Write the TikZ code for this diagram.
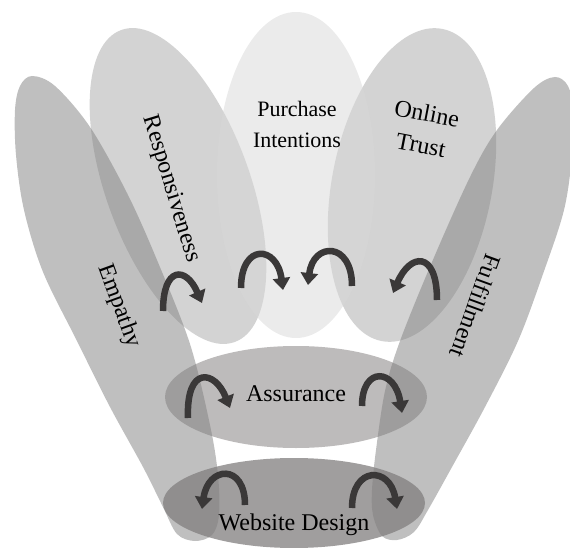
\documentclass[tikz,border=0pt]{standalone}
\usepackage{fontspec}
\setmainfont{Liberation Serif}
\usetikzlibrary{arrows.meta}
\definecolor{sidec}{RGB}{128,128,128}
\definecolor{petalc}{RGB}{167,167,167}
\definecolor{topc}{RGB}{215,215,215}
\definecolor{assc}{RGB}{124,119,119}
\definecolor{webc}{RGB}{66,61,61}
\definecolor{arrc}{RGB}{58,56,56}
\begin{document}
\begin{tikzpicture}[x=1pt,y=-1pt,
  sideshape/.style={fill=sidec,fill opacity=0.5},
  petal/.style={fill=petalc,fill opacity=0.5},
  toppetal/.style={fill=topc,fill opacity=0.5},
  assshape/.style={fill=assc,fill opacity=0.5},
  webshape/.style={fill=webc,fill opacity=0.5},
  lbl/.style={font=\fontsize{24}{32}\selectfont,text=black,inner sep=0pt,align=center},
  carrow/.style={draw=arrc,line width=6.5pt,-{Triangle[width=17pt,length=12pt]}}]
\useasboundingbox (0,0) rectangle (570,548);
% petals
\fill[petal,rotate around={20:(178,186)}] (178,186) ellipse [x radius=72,y radius=166];
\fill[petal,rotate around={-11:(412,185)}] (412,185) ellipse [x radius=80,y radius=159];
\fill[toppetal] (296,175) ellipse [x radius=79,y radius=163];
% assurance and website design
\fill[assshape] (296,397) ellipse [x radius=131,y radius=51];
\fill[webshape] (294,503) ellipse [x radius=131,y radius=45];
% empathy and fulfillment
\fill[sideshape] plot[smooth cycle,tension=0.55] coordinates {(32,76) (55,86) (90,127) (127,193) (157,260) (190,344) (210,425) (218,475) (219,515) (212,535) (195,541) (177,534) (163,507) (143,467) (110,407) (77,341) (43,272) (24,210) (16,155) (15,110) (20,86)};
\fill[sideshape] plot[smooth cycle,tension=0.55] coordinates {(555,77) (568,86) (573,110) (572,155) (564,210) (543,274) (518,341) (485,407) (452,467) (428,510) (414,532) (397,540) (382,536) (373,515) (372,490) (376,450) (385,391) (400,341) (432,262) (470,177) (497,130) (534,88)};
% labels
\node[lbl,rotate=-73] (tresp) at (171,189) {Responsiveness};
\node[lbl,font=\fontsize{22}{31}\selectfont] (tpur) at (297,124) {Purchase\\Intentions};
\node[lbl,rotate=-11] (ttrust) at (424,129) {Online\\Trust};
\node[lbl,rotate=-70] (temp) at (119,306) {Empathy};
\node[lbl,rotate=-110] (tful) at (476,306) {Fulfillment};
\node[lbl] (tass) at (296,394) {Assurance};
\node[lbl] (tweb) at (294,525) {Website Design};
% curved arrows
\draw[carrow] (163,311) .. controls (163,266) and (186,266) .. (202,303);
\draw[carrow] (241,288) .. controls (241,243) and (277,245) .. (283,290);
\draw[carrow] (352,286) .. controls (352,241) and (313,242) .. (308,285);
\draw[carrow] (437,300) .. controls (437,250) and (410,253) .. (393,293);
\draw[carrow] (188,418) .. controls (186,365) and (215,370) .. (230,408);
\draw[carrow] (362,406) .. controls (362,366) and (395,368) .. (402,413);
\draw[carrow] (245,505) .. controls (245,463) and (208,466) .. (202,509);
\draw[carrow] (352,508) .. controls (352,466) and (390,466) .. (397,509);
\end{tikzpicture}
\end{document}
